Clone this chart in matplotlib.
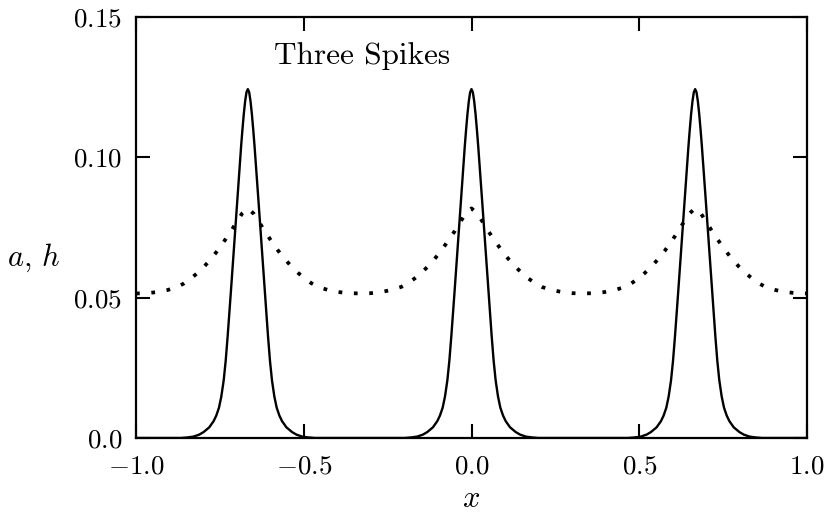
import numpy as np
import matplotlib
matplotlib.use("Agg")
import matplotlib.pyplot as plt

plt.rcParams['mathtext.fontset'] = 'cm'
plt.rcParams['font.family'] = 'serif'
plt.rcParams['font.serif'] = ['cmr10', 'DejaVu Serif']
plt.rcParams['axes.formatter.use_mathtext'] = True

# spike positions and the profile of one spike (offset from centre, a value)
spike_centers = [-2 / 3, 0.0, 2 / 3]
spike_dx = [0.0, 0.004, 0.008, 0.012, 0.016, 0.020, 0.024, 0.028, 0.032,
            0.036, 0.040, 0.0447, 0.050, 0.055, 0.060, 0.066, 0.072,
            0.079, 0.086, 0.094, 0.102, 0.115, 0.132, 0.145, 0.162,
            0.18, 0.20]
spike_a = [0.1243, 0.1232, 0.1200, 0.1155, 0.1100, 0.1040, 0.0975, 0.0908,
           0.0840, 0.0772, 0.0703, 0.0621, 0.0530, 0.0445, 0.0365, 0.0275,
           0.0205, 0.0148, 0.0108, 0.0080, 0.0060, 0.0038, 0.0021, 0.0012,
           0.0005, 0.0002, 0.0]

# dotted h curve: distance from nearest spike centre, h value
h_d = [0.0, 0.017, 0.035, 0.05, 0.07, 0.09, 0.11, 0.13, 0.15, 0.17,
       0.19, 0.21, 0.24, 0.27, 0.30, 1 / 3]
h_val = [0.0818, 0.0800, 0.0767, 0.0737, 0.0702, 0.0668, 0.0638, 0.0611,
         0.0588, 0.0568, 0.0551, 0.0538, 0.0527, 0.0520, 0.0516, 0.0515]

xticks = [-1.0, -0.5, 0.0, 0.5, 1.0]
xtick_labels = [r'$-1.0$', r'$-0.5$', r'$0.0$', r'$0.5$', r'$1.0$']
yticks = [0.0, 0.05, 0.10, 0.15]
ytick_labels = [r'$0.0$', r'$0.05$', r'$0.10$', r'$0.15$']


def mirror(center, d, v):
    d = np.asarray(d)
    v = np.asarray(v)
    xs = np.concatenate([center - d[::-1], center + d[1:]])
    ys = np.concatenate([v[::-1], v[1:]])
    return xs, ys


# build a(x) over the whole range, zero between spikes
a_x, a_y = [-1.0], [0.0]
for c in spike_centers:
    xs, ys = mirror(c, spike_dx, spike_a)
    a_x.extend(xs)
    a_y.extend(ys)
a_x.append(1.0)
a_y.append(0.0)

h_x, h_y = [], []
for c in spike_centers:
    xs, ys = mirror(c, h_d, h_val)
    keep = (xs >= -1.0) & (xs <= 1.0)
    xs, ys = xs[keep], ys[keep]
    if h_x and abs(xs[0] - h_x[-1]) < 1e-9:
        xs, ys = xs[1:], ys[1:]
    h_x.extend(xs)
    h_y.extend(ys)

fig = plt.figure(figsize=(8.28, 5.22), dpi=100)
ax = fig.add_axes([136 / 828, 1 - 438 / 522, (807 - 136) / 828, (438 - 17) / 522])

ax.plot(a_x, a_y, color='black', lw=1.7, solid_joinstyle='round')
ax.plot(h_x, h_y, color='black', lw=2.7, linestyle=(0, (1, 3.1)),
        dash_capstyle='butt')

ax.set_xlim(-1, 1)
ax.set_ylim(0, 0.15)
ax.set_xticks(xticks)
ax.set_xticklabels(xtick_labels)
ax.set_yticks(yticks)
ax.set_yticklabels(ytick_labels)
ax.tick_params(direction='in', length=10, width=1.5, top=True, right=True,
               labelsize=19.5)
ax.tick_params(axis='x', pad=12)
ax.tick_params(axis='y', pad=10)
for s in ax.spines.values():
    s.set_linewidth(1.6)

ax.set_xlabel(r'$x$', fontsize=22, labelpad=5)
ax.set_ylabel(r'$a,\,h$', fontsize=22, rotation=0, ha='center', va='center')
ax.yaxis.set_label_coords(-0.153, 0.428)

ax.text(-0.326, 0.136, 'Three Spikes', fontsize=22.5, ha='center',
        va='center')

fig.savefig('out.png', dpi=100)
